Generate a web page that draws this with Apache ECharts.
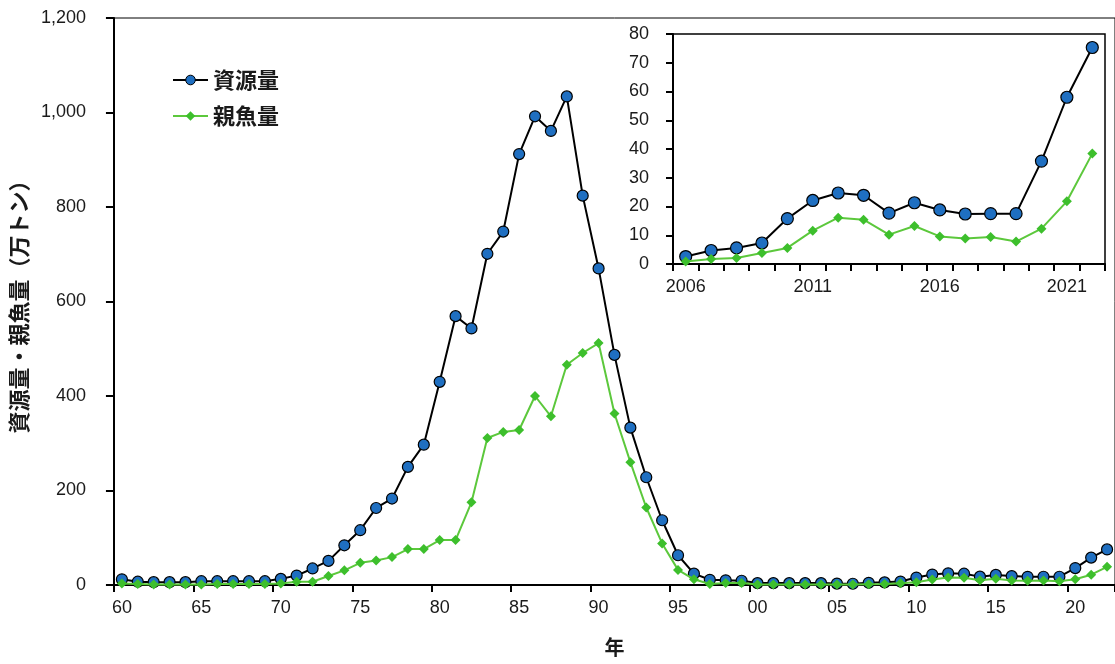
<!DOCTYPE html>
<html>
<head>
<meta charset="utf-8">
<script src="https://cdn.jsdelivr.net/npm/echarts@6/dist/echarts.min.js"></script>
<style>
html, body { margin: 0; padding: 0; background: #fff; }
#chart { width: 1115px; height: 664px; }
</style>
</head>
<body>
<div id="chart"></div>
<script>
// 年 (1960-2022)
const years = [
    '60','61','62','63','64','65','66','67','68','69',
    '70','71','72','73','74','75','76','77','78','79',
    '80','81','82','83','84','85','86','87','88','89',
    '90','91','92','93','94','95','96','97','98','99',
    '00','01','02','03','04','05','06','07','08','09',
    '10','11','12','13','14','15','16','17','18','19',
    '20','21','22'
];
// 資源量 (万トン)
const stock = [
    12, 7, 6, 6, 6, 8, 8, 8, 8, 8,
    13, 20, 35, 51, 84, 116, 163, 183, 250, 297,
    430, 569, 543, 701, 748, 912, 992, 961, 1034, 824,
    670, 487, 333, 228, 137, 63, 24, 11, 10, 9,
    4, 4, 4, 4, 4, 3, 2.6, 4.7, 5.6, 7.3,
    15.8, 22.1, 24.7, 23.9, 17.7, 21.3, 18.8, 17.4, 17.5, 17.5,
    35.8, 58, 75.3
];
// 親魚量 (万トン)
const spawning = [
    3, 2, 1, 1, 1, 1, 2, 2, 2, 2,
    3, 7, 7, 19, 31, 47, 52, 59, 76, 76,
    95, 95, 175, 311, 324, 328, 400, 357, 466, 491,
    512, 363, 260, 164, 88, 32, 12, 2, 4, 4,
    1, 1, 1, 1, 1, 1, 0.9, 1.7, 2.1, 3.8,
    5.6, 11.6, 16.1, 15.4, 10.2, 13.2, 9.6, 8.9, 9.4, 7.8,
    12.3, 21.8, 38.4
];
// 拡大図 (2006-2022)
const insetYears = [
    '2006','2007','2008','2009','2010','2011','2012','2013','2014',
    '2015','2016','2017','2018','2019','2020','2021','2022'
];
const insetStock = stock.slice(46);
const insetSpawning = spawning.slice(46);

const numFont = 'Liberation Sans, Arial, sans-serif';
const jpFont = 'Noto Sans CJK JP, sans-serif';
const txtColor = '#1a1a1a';
const blue = '#1f6fc1';
const green = '#5cc83c';

function stockSeries(name, data, xi, size) {
    return {
        name: name, type: 'line', data: data,
        xAxisIndex: xi, yAxisIndex: xi,
        symbol: 'circle', symbolSize: size, showAllSymbol: true,
        lineStyle: { color: '#000', width: 2 },
        itemStyle: { color: blue, borderColor: '#000', borderWidth: 1.2 },
        z: 3, animation: false
    };
}
function spawnSeries(name, data, xi, size) {
    return {
        name: name, type: 'line', data: data,
        xAxisIndex: xi, yAxisIndex: xi,
        symbol: 'diamond', symbolSize: size, showAllSymbol: true,
        lineStyle: { color: green, width: 2 },
        itemStyle: { color: '#3dbf2c', borderWidth: 0 },
        z: 4, animation: false
    };
}
function tick(len, interval) {
    let t = { show: true, inside: false, length: len, lineStyle: { color: '#000', width: 2 } };
    if (interval !== undefined) t.interval = interval;
    return t;
}

let chart = echarts.init(document.getElementById('chart'));
let option = {
    backgroundColor: '#fff',
    legend: {
        orient: 'vertical',
        left: 167, top: 64,
        itemWidth: 35, itemHeight: 12, itemGap: 14,
        textStyle: { fontFamily: jpFont, fontSize: 22, fontWeight: 'bold', color: txtColor },
        data: [
            { name: '資源量', itemStyle: { color: blue, borderColor: '#000', borderWidth: 1 }, lineStyle: { color: '#000', width: 2 } },
            { name: '親魚量', itemStyle: { color: '#3dbf2c' }, lineStyle: { color: green, width: 2 } }
        ]
    },
    grid: [
        { left: 111, right: 0, top: 18, bottom: 79, show: true, borderColor: '#000', borderWidth: 1 },
        { left: 673, right: 10, top: 34, bottom: 400, show: true, borderColor: '#000', borderWidth: 1.5 }
    ],
    xAxis: [
        {
            type: 'category', gridIndex: 0, data: years, boundaryGap: true,
            name: '年', nameLocation: 'middle', nameGap: 52,
            nameTextStyle: { fontFamily: jpFont, fontSize: 20, fontWeight: 'bold', color: txtColor },
            axisLine: { show: true, lineStyle: { color: '#000', width: 2 } },
            axisTick: tick(7, 4),
            axisLabel: { interval: 4, margin: 14, fontFamily: numFont, fontSize: 18, color: txtColor },
            splitLine: { show: false }
        },
        {
            type: 'category', gridIndex: 1, data: insetYears, boundaryGap: true,
            axisLine: { show: true, lineStyle: { color: '#000', width: 2 } },
            axisTick: tick(7, 0),
            axisLabel: { interval: 4, margin: 14, fontFamily: numFont, fontSize: 18, color: txtColor },
            splitLine: { show: false }
        }
    ],
    yAxis: [
        {
            type: 'value', gridIndex: 0, min: 0, max: 1200, interval: 200,
            name: '資源量・親魚量（万トン）', nameLocation: 'middle', nameRotate: 90, nameGap: 74,
            nameTextStyle: { fontFamily: jpFont, fontSize: 22, fontWeight: 'bold', color: txtColor },
            axisLine: { show: true, lineStyle: { color: '#000', width: 2 } },
            axisTick: tick(8),
            axisLabel: {
                margin: 28, fontFamily: numFont, fontSize: 18, color: txtColor,
                formatter: function (v) { return v.toLocaleString('en-US'); }
            },
            splitLine: { show: false }
        },
        {
            type: 'value', gridIndex: 1, min: 0, max: 80, interval: 10,
            axisLine: { show: true, lineStyle: { color: '#000', width: 2 } },
            axisTick: tick(7),
            axisLabel: { margin: 24, fontFamily: numFont, fontSize: 18, color: txtColor },
            splitLine: { show: false }
        }
    ],
    series: [
        stockSeries('資源量', stock, 0, 11),
        spawnSeries('親魚量', spawning, 0, 10),
        stockSeries('資源量 ', insetStock, 1, 12),
        spawnSeries('親魚量 ', insetSpawning, 1, 10)
    ]
};
chart.setOption(option);
</script>
</body>
</html>
